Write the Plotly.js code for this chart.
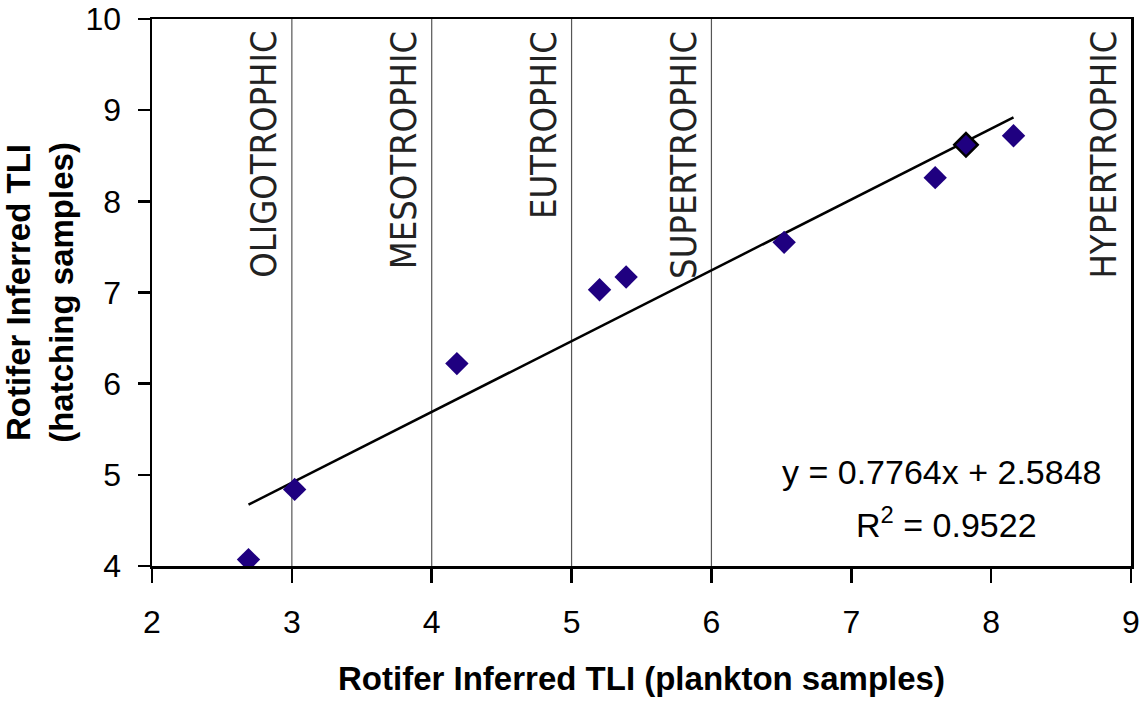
<!DOCTYPE html>
<html>
<head>
<meta charset="utf-8">
<script src="https://cdn.plot.ly/plotly-3.0.1.min.js"></script>
<style>html,body{margin:0;padding:0;background:#fff;}#chart{width:1148px;height:702px;}</style>
</head>
<body>
<div id="chart"></div>
<script>
// Data
var planktonTLI = [2.69, 3.02, 4.18, 5.20, 5.39, 6.52, 7.60, 7.82, 8.16];
var hatchingTLI = [4.07, 4.84, 6.22, 7.03, 7.17, 7.55, 8.26, 8.62, 8.72];
var outlined    = [false, false, false, false, false, false, false, true, false];
var slope = 0.7764;
var intercept = 2.5848;
var rSquared = 0.9522;
var zoneBounds = [3, 4, 5, 6];
var zoneLabels = ["OLIGOTROPHIC", "MESOTROPHIC", "EUTROPHIC", "SUPERTROPHIC", "HYPERTROPHIC"];
var zoneLabelX = [3, 4, 5, 6, 9];
var xTicks = [2, 3, 4, 5, 6, 7, 8, 9];
var yTicks = [4, 5, 6, 7, 8, 9, 10];

var xMin = Math.min.apply(null, planktonTLI);
var xMax = Math.max.apply(null, planktonTLI);
var trendX = [xMin, xMax];
var trendY = trendX.map(function (v) { return slope * v + intercept; });

var traces = [
  {
    x: trendX, y: trendY, mode: 'lines', type: 'scatter',
    line: {color: '#000000', width: 2.5}, hoverinfo: 'skip', showlegend: false
  },
  {
    x: planktonTLI, y: hatchingTLI, mode: 'markers', type: 'scatter',
    marker: {
      symbol: 'diamond', size: 18, color: '#1f0080',
      line: {
        color: outlined.map(function (o) { return o ? '#000000' : '#1f0080'; }),
        width: outlined.map(function (o) { return o ? 2.5 : 0; })
      }
    },
    showlegend: false
  }
];

var shapes = zoneBounds.map(function (b) {
  return {
    type: 'line', xref: 'x', yref: 'paper', x0: b, x1: b, y0: 0, y1: 1,
    line: {color: '#555555', width: 1.2}, layer: 'below'
  };
});

var annotations = zoneLabels.map(function (t, i) {
  return {
    text: t, x: zoneLabelX[i], xref: 'x', xanchor: 'right', xshift: -6,
    y: 1, yref: 'paper', yanchor: 'top', yshift: -10,
    textangle: -90, showarrow: false,
    font: {family: '"DejaVu Sans Condensed", "Liberation Sans Narrow", sans-serif', size: 36, color: '#222222'}
  };
});
annotations.push({
  text: 'y = ' + slope + 'x + ' + intercept,
  x: 7.647, xref: 'x', y: 5.03, yref: 'y', showarrow: false,
  font: {family: '"Liberation Sans", Arial, sans-serif', size: 34, color: '#000'}
});
annotations.push({
  text: 'R<sup>2</sup> = ' + rSquared,
  x: 7.683, xref: 'x', y: 4.48, yref: 'y', showarrow: false,
  font: {family: '"Liberation Sans", Arial, sans-serif', size: 34, color: '#000'}
});

var layout = {
  width: 1148, height: 702,
  margin: {l: 152, r: 17, t: 19, b: 136},
  paper_bgcolor: '#ffffff', plot_bgcolor: '#ffffff',
  font: {family: '"Liberation Sans", Arial, sans-serif', color: '#000'},
  xaxis: {
    range: [2, 9], tickvals: xTicks, ticktext: xTicks.map(String),
    showgrid: false, zeroline: false,
    showline: true, linecolor: '#000', linewidth: 2.5, mirror: true,
    ticks: 'outside', ticklen: 14, tickwidth: 2.5, tickcolor: '#000',
    ticklabelstandoff: 12,
    tickfont: {size: 32, color: '#000'},
    title: {text: '<b>Rotifer Inferred TLI (plankton samples)</b>', font: {size: 33, color: '#000'}, standoff: 28}
  },
  yaxis: {
    range: [4, 10], tickvals: yTicks, ticktext: yTicks.map(String),
    showgrid: false, zeroline: false,
    showline: true, linecolor: '#000', linewidth: 2.5, mirror: true,
    ticks: 'outside', ticklen: 12, tickwidth: 2.5, tickcolor: '#000',
    ticklabelstandoff: 10,
    tickfont: {size: 32, color: '#000'},
    title: {text: '<b>Rotifer Inferred TLI<br>(hatching samples)</b>', font: {size: 33, color: '#000'}, standoff: 14}
  },
  shapes: shapes,
  annotations: annotations,
  showlegend: false
};

Plotly.newPlot('chart', traces, layout, {displayModeBar: false, staticPlot: true});
</script>
</body>
</html>
